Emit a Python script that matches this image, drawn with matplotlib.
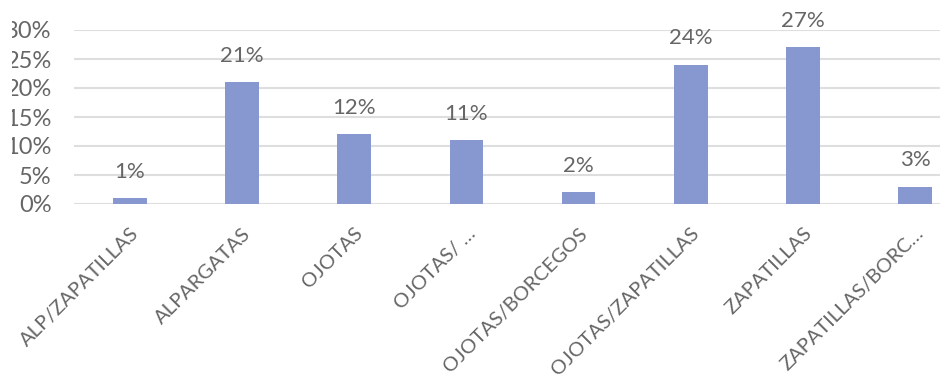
import matplotlib.pyplot as plt
from matplotlib.patches import Rectangle
from matplotlib.ticker import PercentFormatter

categorias = ["ALP/ZAPATILLAS", "ALPARGATAS", "OJOTAS", "OJOTAS/ …",
              "OJOTAS/BORCEGOS", "OJOTAS/ZAPATILLAS", "ZAPATILLAS",
              "ZAPATILLAS/BORC…"]
porcentajes = [1, 21, 12, 11, 2, 24, 27, 3]
yticks = [0, 5, 10, 15, 20, 25, 30]

gris = "#666666"
plt.rcParams["font.family"] = ["Lato", "DejaVu Sans"]

fig = plt.figure(figsize=(9.4, 3.83), dpi=100)
# el grafico queda recortado a izquierda y derecha
ax = fig.add_axes([74 / 940, 1 - 204 / 383, 897 / 940, 174 / 383])

x = range(len(categorias))
barras = ax.bar(x, porcentajes, width=0.3, color="#8797D0", zorder=3)
ax.bar_label(barras, labels=[f"{v}%" for v in porcentajes], padding=12,
             fontsize=16, color=gris)

ax.set_ylim(0, 30)
ax.set_xlim(-0.5, len(categorias) - 0.5)
ax.set_yticks(yticks)
ax.yaxis.set_major_formatter(PercentFormatter(decimals=0))
ax.grid(axis="y", color="#DEDEDE", linewidth=1.5, zorder=0)
for s in ax.spines.values():
    s.set_visible(False)
ax.tick_params(axis="both", length=0, colors=gris)
ax.tick_params(axis="y", pad=16, labelsize=17)

ax.set_xticks(list(x))
ax.set_xticklabels(categorias, rotation=45, ha="right", va="top",
                   rotation_mode="anchor", fontsize=14.5)
ax.tick_params(axis="x", pad=15)

# franja blanca del recorte en el borde izquierdo
fig.patches.append(Rectangle((0, 0), 12 / 940, 1, transform=fig.transFigure,
                             facecolor="white", edgecolor="none", zorder=10))

fig.savefig("out.png", dpi=100)
